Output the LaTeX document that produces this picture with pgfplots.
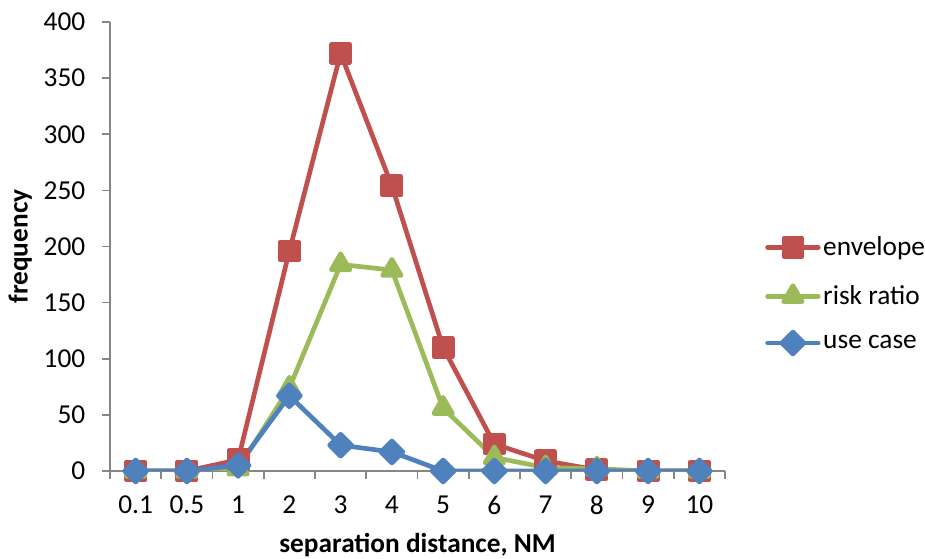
\documentclass[border=0pt]{standalone}
\usepackage{fontspec}
\setmainfont{Carlito}
\usepackage{pgfplots}
\pgfplotsset{compat=1.18}
\usetikzlibrary{calc}
\definecolor{cred}{HTML}{C0504D}
\definecolor{cgreen}{HTML}{9BBB59}
\definecolor{cblue}{HTML}{4F81BD}
\definecolor{axgray}{HTML}{868686}
\begin{document}
\begin{tikzpicture}
\begin{axis}[
  scale only axis,
  width=461.25pt, height=336.75pt,
  xmin=-0.5, xmax=11.5, ymin=0, ymax=400,
  axis x line*=bottom, axis y line*=left,
  axis line style={axgray, line width=1.2pt},
  xtick={0,...,11},
  xticklabels={0.1,0.5,1,2,3,4,5,6,7,8,9,10},
  major x tick style={draw=none},
  minor xtick={-0.5,0.5,...,11.5},
  ytick={0,50,...,400},
  tick align=outside,
  major tick length=6pt, minor tick length=6pt,
  tick style={axgray, line width=1.2pt},
  xticklabel style={font=\fontsize{20.5}{24}\selectfont, yshift=-9pt},
  yticklabel style={font=\fontsize{20.5}{24}\selectfont, xshift=-9pt},
  /pgf/number format/assume math mode=true,
  xlabel={\textbf{separation distance, NM}},
  ylabel={\textbf{frequency}},
  xlabel style={font=\fontsize{20.5}{24}\selectfont, at={(axis description cs:0.5,-0.165)}, anchor=center},
  ylabel style={font=\fontsize{20.5}{24}\selectfont, at={(axis description cs:-0.146,0.5)}, anchor=center},
  legend style={at={(axis description cs:1.065,0.394)}, anchor=west, draw=none, fill=none,
    font=\fontsize{20.5}{24}\selectfont, row sep=17pt, inner sep=0pt},
  legend cell align=left,
  legend image code/.code={\draw[#1, mark repeat=2, mark phase=2] plot coordinates {(0pt,0pt)(19pt,0pt)(38pt,0pt)};},
  every axis plot/.append style={line width=3.5pt, line cap=round, line join=round},
]
\addplot[cred, mark=square*, mark size=6.8pt, mark options={solid}] coordinates {
(0,0) (1,0) (2,10) (3,196) (4,372) (5,254) (6,110) (7,24) (8,9) (9,1) (10,0) (11,0)};
\addlegendentry{envelope}
\addplot[cgreen, mark=triangle*, mark size=8pt, mark options={solid}] coordinates {
(0,0) (1,0) (2,2) (3,74) (4,184) (5,179) (6,56) (7,12) (8,3) (9,2) (10,0) (11,0)};
\addlegendentry{risk ratio}
\addplot[cblue, mark=square*, mark size=5.8pt, mark options={solid, rotate=45}] coordinates {
(0,0) (1,0) (2,5) (3,67) (4,23) (5,17) (6,0) (7,0) (8,0) (9,0) (10,0) (11,0)};
\addlegendentry{use case}
\end{axis}
\pgfresetboundingbox
\path[use as bounding box] ($(current axis.south west)+(-82.5pt,-66pt)$) rectangle ($(current axis.north east)+(150pt,16.5pt)$);
\end{tikzpicture}
\end{document}
